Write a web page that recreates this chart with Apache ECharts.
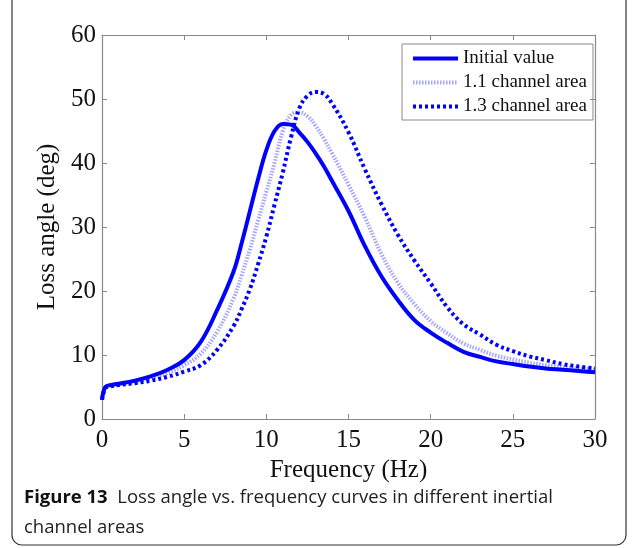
<!DOCTYPE html>
<html>
<head>
<meta charset="utf-8" />
<script src="https://cdn.jsdelivr.net/npm/echarts@6/dist/echarts.min.js"></script>
<title>Loss angle vs. frequency</title>
<style>
  html, body { margin: 0; padding: 0; background: #fff; }
  #main { width: 637px; height: 548px; }
</style>
</head>
<body>
<div id="main"></div>
<script type="text/javascript">
// frequency (Hz) shared by the three curves
var freq = [0, 0.2, 0.5, 1, 2, 3, 4, 5, 6, 7, 8, 8.5, 9, 9.5, 10, 10.5, 11, 11.5, 12, 12.5, 13, 13.5, 14,
            15, 16, 17, 18, 19, 20, 21, 22, 23, 24, 25, 26, 27, 28, 29, 30];
// loss angle (deg)
var initialValue = [3.0, 5.0, 5.3, 5.5, 6.0, 6.7, 7.7, 9.2, 12.0, 17.0, 23.0, 27.5, 32.5, 37.5, 42.0, 45.0, 46.1, 46.0, 44.8, 43.3, 41.5, 39.5, 37.2,
                    32.5, 27.0, 22.3, 18.6, 15.5, 13.5, 11.9, 10.5, 9.7, 9.0, 8.6, 8.2, 7.9, 7.7, 7.5, 7.3];
var area11 = [3.0, 4.9, 5.2, 5.4, 5.8, 6.4, 7.2, 8.4, 10.2, 13.6, 18.8, 22.5, 26.5, 31.0, 35.5, 40.0, 45.0, 47.5, 47.9, 47.3, 45.8, 43.8, 41.5,
              36.6, 31.5, 25.8, 21.3, 18.0, 15.3, 13.4, 11.8, 10.8, 9.9, 9.3, 8.8, 8.4, 8.1, 7.9, 7.7];
var area13 = [3.0, 4.8, 5.1, 5.3, 5.6, 6.0, 6.6, 7.4, 8.4, 10.8, 14.5, 17.2, 20.3, 24.2, 28.5, 33.5, 38.5, 44.0, 48.5, 50.5, 51.1, 50.8, 49.3,
              44.8, 39.0, 33.6, 28.8, 24.8, 21.2, 17.5, 14.8, 13.2, 11.6, 10.6, 9.8, 9.2, 8.6, 8.2, 7.9];
var seriesNames = ['Initial value', '1.1 channel area', '1.3 channel area'];

function pairs(ys) {
  var out = [];
  for (var i = 0; i < freq.length; i++) out.push([freq[i], ys[i]]);
  return out;
}

var serif = '"Liberation Serif", "Times New Roman", serif';
var sans = '"Open Sans", "Noto Sans", sans-serif';
var frameColor = '#8a8a8a';

var myChart = echarts.init(document.getElementById('main'));

var xCommon = { type: 'value', min: 0, max: 30, interval: 5,
  axisLine: { show: true, onZero: false, lineStyle: { color: frameColor, width: 1.2 } },
  axisTick: { show: true, inside: true, length: 5, lineStyle: { color: frameColor } },
  splitLine: { show: false } };
var yCommon = { type: 'value', min: 0, max: 60, interval: 10,
  axisLine: { show: true, onZero: false, lineStyle: { color: frameColor, width: 1.2 } },
  axisTick: { show: true, inside: true, length: 5, lineStyle: { color: frameColor } },
  splitLine: { show: false } };

var option = {
  animation: false,
  grid: { left: 102, top: 35, right: 42, bottom: 129 },
  xAxis: [
    Object.assign({}, xCommon, {
      position: 'bottom',
      name: 'Frequency (Hz)', nameLocation: 'middle', nameGap: 35,
      nameTextStyle: { fontFamily: serif, fontSize: 25, color: '#111' },
      axisLabel: { margin: 9, fontFamily: serif, fontSize: 25, color: '#111' }
    }),
    Object.assign({}, xCommon, { position: 'top', axisLabel: { show: false } })
  ],
  yAxis: [
    Object.assign({}, yCommon, {
      position: 'left',
      name: 'Loss angle (deg)', nameLocation: 'middle', nameGap: 40,
      nameTextStyle: { fontFamily: serif, fontSize: 25, color: '#111' },
      axisLabel: { margin: 6, fontFamily: serif, fontSize: 25, color: '#111' }
    }),
    Object.assign({}, yCommon, { position: 'right', axisLabel: { show: false } })
  ],
  legend: {
    orient: 'vertical', left: 402, top: 44,
    data: seriesNames,
    itemWidth: 45, itemHeight: 12, itemGap: 5,
    padding: [5, 6, 4, 9],
    borderColor: frameColor, borderWidth: 1,
    itemStyle: { opacity: 0 },
    lineStyle: { width: 4 },
    textStyle: { fontFamily: serif, fontSize: 19, color: '#111' }
  },
  series: [
    { name: seriesNames[0], type: 'line', data: pairs(initialValue), smooth: 0.4,
      symbol: 'none', z: 3,
      lineStyle: { color: '#0000ff', width: 4 }, itemStyle: { color: '#0000ff' } },
    { name: seriesNames[1], type: 'line', data: pairs(area11), smooth: 0.4,
      symbol: 'none', z: 2,
      lineStyle: { color: '#a4a4ff', width: 4, type: [1.5, 1.5] }, itemStyle: { color: '#a4a4ff' } },
    { name: seriesNames[2], type: 'line', data: pairs(area13), smooth: 0.4,
      symbol: 'none', z: 4,
      lineStyle: { color: '#0000ff', width: 4, type: [3, 3] }, itemStyle: { color: '#0000ff' } }
  ],
  graphic: [
    { type: 'rect', silent: true, z: -1,
      shape: { x: 12, y: -20, width: 614, height: 565, r: 10 },
      style: { fill: 'none', stroke: '#333', lineWidth: 1.2 } },
    { type: 'text', left: 24, top: 488,
      style: { text: '{b|Figure 13}  Loss angle vs. frequency curves in different inertial',
        fontFamily: sans, fontSize: 18.5, fill: '#222',
        rich: { b: { fontWeight: 'bold', fontFamily: sans, fontSize: 18.5, fill: '#111' } } } },
    { type: 'text', left: 24, top: 518,
      style: { text: 'channel areas', fontFamily: sans, fontSize: 18.5, fill: '#222' } }
  ]
};

myChart.setOption(option);
</script>
</body>
</html>
